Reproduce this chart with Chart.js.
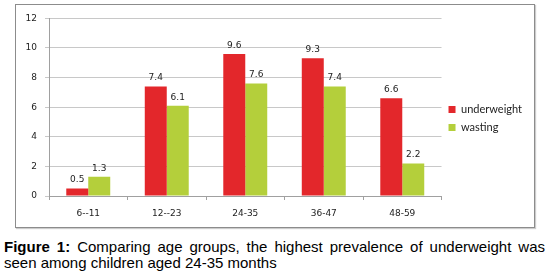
<!DOCTYPE html>
<html>
<head>
<meta charset="utf-8">
<script src="https://cdn.jsdelivr.net/npm/chart.js@4.4.0/dist/chart.umd.min.js"></script>
<style>
  body { margin: 0; background: #fff; width: 548px; height: 274px; position: relative; overflow: hidden; }
  #box { position: absolute; left: 15px; top: 4px; width: 518px; height: 222px; border: 1px solid #8c8c8c; box-shadow: 1px 1px 1px #ccc; }
  #caption { position: absolute; left: 4px; top: 239px; width: 541px; font-family: "Liberation Sans", Arial, sans-serif; font-size: 15px; line-height: 16px; color: #000; }
  #caption .l1 { text-align: justify; text-align-last: justify; white-space: nowrap; }
</style>
</head>
<body>
<div id="box"><canvas id="chart"></canvas></div>
<div id="caption">
  <div class="l1"><b>Figure 1:</b> Comparing age groups, the highest prevalence of underweight was</div>
  <div>seen among children aged 24-35 months</div>
</div>
<script>
var ageGroups = ["6--11", "12--23", "24-35", "36-47", "48-59"];
var underweight = [0.5, 7.4, 9.6, 9.3, 6.6];
var wasting = [1.3, 6.1, 7.6, 7.4, 2.2];
var yTicks = [0, 2, 4, 6, 8, 10, 12];

// draws the value above each bar
var valueLabels = {
  id: 'valueLabels',
  afterDatasetsDraw: function(chart) {
    var ctx = chart.ctx;
    ctx.save();
    ctx.font = '9px "DejaVu Sans", Verdana, sans-serif';
    ctx.fillStyle = '#222';
    ctx.textAlign = 'center';
    ctx.textBaseline = 'bottom';
    chart.data.datasets.forEach(function(ds, i) {
      chart.getDatasetMeta(i).data.forEach(function(bar, j) {
        ctx.fillText(ds.data[j].toFixed(1), bar.x, bar.y - 4);
      });
    });
    ctx.restore();
  }
};

new Chart(document.getElementById("chart").getContext("2d"), {
  type: 'bar',
  data: {
    labels: ageGroups,
    datasets: [
      { label: 'underweight', data: underweight, backgroundColor: '#e3272b', categoryPercentage: 0.56, barPercentage: 1 },
      { label: 'wasting', data: wasting, backgroundColor: '#b4cf3b', categoryPercentage: 0.56, barPercentage: 1 }
    ]
  },
  options: {
    responsive: true,
    maintainAspectRatio: false,
    animation: false,
    layout: { padding: { left: 0, top: 11, right: 2, bottom: 6 } },
    plugins: {
      tooltip: { enabled: false },
      legend: {
        position: 'right',
        labels: {
          boxWidth: 7, boxHeight: 7, padding: 7,
          color: '#222',
          font: { family: 'Lato, "Open Sans", sans-serif', size: 11 }
        }
      }
    },
    scales: {
      x: {
        grid: { offset: true, drawOnChartArea: false, color: '#a0a0a0', tickLength: 4 },
        border: { color: '#a0a0a0' },
        ticks: { color: '#222', padding: 8, font: { family: '"DejaVu Sans", Verdana, sans-serif', size: 9 } },
        afterFit: function(s) { s.height = 25; }
      },
      y: {
        min: 0, max: 12,
        afterBuildTicks: function(s) { s.ticks = yTicks.map(function(v) { return { value: v }; }); },
        grid: { color: '#c8c8c8', tickLength: 4 },
        border: { color: '#a0a0a0' },
        ticks: { color: '#222', padding: 8, font: { family: '"DejaVu Sans", Verdana, sans-serif', size: 9 } },
        afterFit: function(s) { s.width = 33; }
      }
    }
  },
  plugins: [valueLabels]
});
</script>
</body>
</html>
